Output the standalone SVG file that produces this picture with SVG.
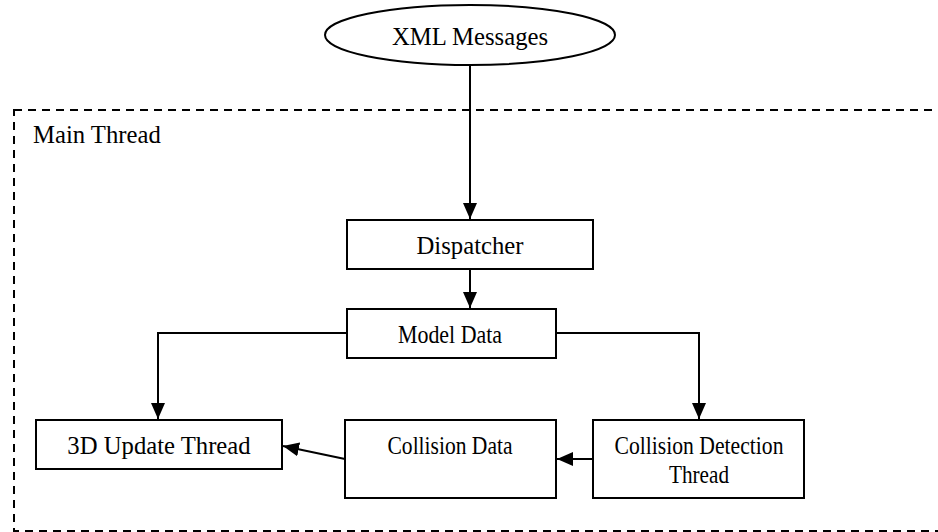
<svg xmlns="http://www.w3.org/2000/svg" width="938" height="532" viewBox="0 0 938 532">
<style>
.box{fill:#fff;stroke:#000;stroke-width:2}
.t{font-family:"Liberation Serif","Times New Roman",serif;font-size:24.7px;fill:#000}
.c{text-anchor:middle}
.ln{fill:none;stroke:#000;stroke-width:2}
</style>
<defs>
<marker id="ah" markerUnits="userSpaceOnUse" markerWidth="16" markerHeight="16" viewBox="0 0 16 14" refX="16" refY="7" orient="auto">
<path d="M0,0 L16,7 L0,14 Z" fill="#000"/>
</marker>
</defs>
<g id="main-thread">
<rect x="14" y="110" width="940" height="421" fill="none" stroke="#000" stroke-width="2" stroke-dasharray="8,6"/>
<text class="t" x="33" y="143">Main Thread</text>
</g>
<g id="connectors">
<line class="ln" x1="470" y1="65" x2="470" y2="219" marker-end="url(#ah)"/>
<line class="ln" x1="470" y1="269" x2="470" y2="308" marker-end="url(#ah)"/>
<polyline class="ln" points="347,333 158,333 158,419" marker-end="url(#ah)"/>
<polyline class="ln" points="556,333 699,333 699,419" marker-end="url(#ah)"/>
<line class="ln" x1="593" y1="459" x2="557" y2="459" marker-end="url(#ah)"/>
<line class="ln" x1="345" y1="459" x2="283" y2="446" marker-end="url(#ah)"/>
</g>
<g id="xml-messages">
<ellipse cx="470" cy="35" rx="145" ry="30" fill="#fff" stroke="#000" stroke-width="2"/>
<text class="t c" x="470" y="45">XML Messages</text>
</g>
<g id="dispatcher">
<rect class="box" x="347" y="220" width="246" height="49"/>
<text class="t c" x="470" y="254">Dispatcher</text>
</g>
<g id="model-data">
<rect class="box" x="347" y="309" width="209" height="49"/>
<text class="t c" x="450" y="343" textLength="104" lengthAdjust="spacingAndGlyphs">Model Data</text>
</g>
<g id="update-thread">
<rect class="box" x="36" y="420" width="246" height="49"/>
<text class="t c" x="159" y="454">3D Update Thread</text>
</g>
<g id="collision-data">
<rect class="box" x="345" y="420" width="211" height="78"/>
<text class="t c" x="450" y="454" textLength="125" lengthAdjust="spacingAndGlyphs">Collision Data</text>
</g>
<g id="collision-detection">
<rect class="box" x="593" y="420" width="211" height="78"/>
<text class="t c" x="699" y="454" textLength="169" lengthAdjust="spacingAndGlyphs">Collision Detection</text>
<text class="t c" x="699" y="483" textLength="60" lengthAdjust="spacingAndGlyphs">Thread</text>
</g>
</svg>
